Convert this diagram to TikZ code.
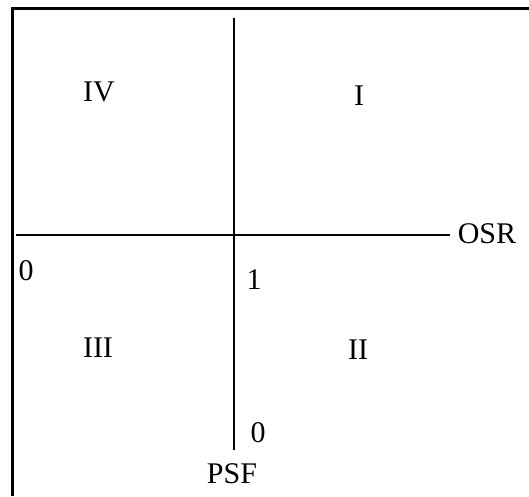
\documentclass[tikz,border=0pt]{standalone}
\usepackage{fontspec}
\setmainfont{Liberation Serif}
\usepackage{tikz}

\begin{document}
\begin{tikzpicture}[x=1pt, y=-1pt, every node/.style={inner sep=0pt, font=\fontsize{30}{35}\selectfont},
  axis/.style={line width=1.8pt}, frame/.style={line width=3pt, line join=miter}]
\useasboundingbox (0,0) rectangle (529,496);
% frame: only top and left edges
\coordinate (fbl) at (12.5,496);
\coordinate (ftl) at (12.5,8);
\coordinate (ftr) at (529,8);
\draw[frame] (fbl) -- (ftl) -- (ftr);
% axes
\coordinate (xstart) at (16,235);
\coordinate (xend) at (450,235);
\coordinate (ystart) at (234,18);
\coordinate (yend) at (234,450);
\draw[axis] (xstart) -- (xend);
\draw[axis] (ystart) -- (yend);
\node (osr) at (487,234) {OSR};
\node (psf) at (232,474) {PSF};
% quadrants
\node (q1) at (359,96) {I};
\node (q2) at (358,350) {II};
\node (q3) at (98,348) {III};
\node (q4) at (99,92) {IV};
% scale marks
\node (zeroleft) at (26,271) {0};
\node (one) at (254,280) {1};
\node (zerobottom) at (258,433) {0};
\end{tikzpicture}
\end{document}
